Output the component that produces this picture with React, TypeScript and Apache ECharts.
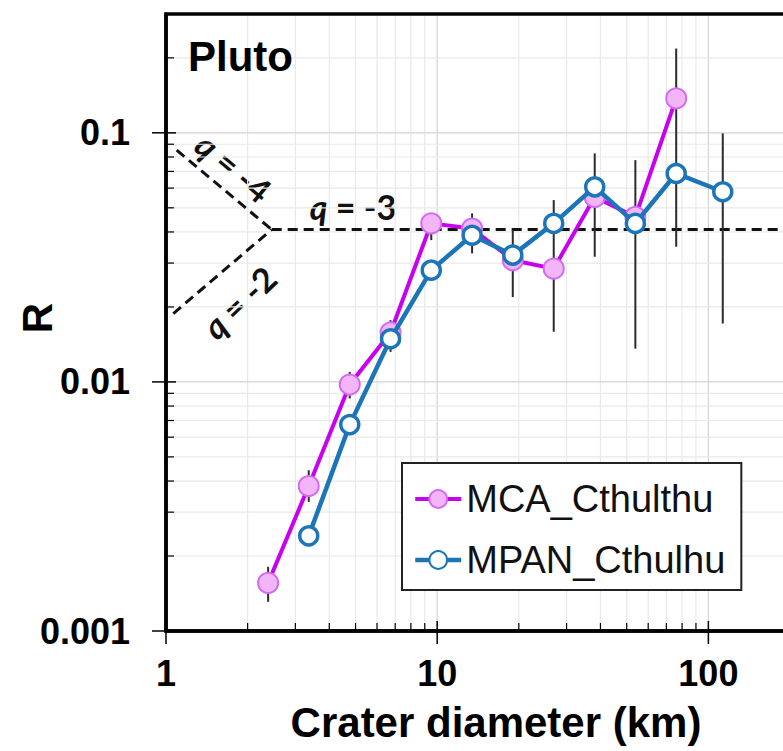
import React, { useEffect, useRef } from 'react';
import * as echarts from 'echarts';

// ---- data ----
const diameters = [2.38, 3.36, 4.76, 6.73, 9.51, 13.45, 19.0, 26.9, 38.1, 53.8, 76.1, 113];
const mcaValues = [0.00156, 0.00382, 0.00976, 0.0158, 0.0433, 0.0413, 0.0308, 0.0285, 0.0553, 0.046, 0.1375, null];
const mpanValues = [null, 0.00241, 0.00674, 0.0149, 0.0281, 0.0388, 0.0323, 0.0433, 0.0607, 0.0433, 0.0687, 0.058];
const errLow = [0.00131, 0.0033, 0.00858, 0.0132, 0.0371, 0.0328, 0.0219, 0.0159, 0.0318, 0.0136, 0.0349, 0.01716];
const errHigh = [0.00181, 0.00442, 0.01097, 0.0177, 0.0476, 0.0475, 0.0407, 0.0537, 0.0827, 0.0777, 0.218, 0.0995];

// reference slope lines (q = -4, -2, -3)
const q4Line = [[1.095, 0.0852], [2.453, 0.0409]];
const q2Line = [[1.064, 0.01882], [2.453, 0.0409]];
const q3Line = [[2.453, 0.0409], [200, 0.0409]];

const xTickLabels = ['1', '10', '100'];
const yTickLabels = ['0.001', '0.01', '0.1'];
const xMajor = [1, 10, 100];
const yMajor = [0.001, 0.01, 0.1];
const xMinor = [2, 3, 4, 5, 6, 7, 8, 9, 20, 30, 40, 50, 60, 70, 80, 90];
const yMinor = [0.002, 0.003, 0.004, 0.005, 0.006, 0.007, 0.008, 0.009, 0.02, 0.03, 0.04, 0.05, 0.06, 0.07, 0.08, 0.09, 0.2];

const X_MIN = 1;
const X_MAX = 200;
const Y_MIN = 0.001;
const Y_MAX = 0.3;

const FONT = '"Liberation Sans", Arial, sans-serif';
const QFONT = 'Lato, "Open Sans", sans-serif';

export default function App() {
  const ref = useRef<HTMLDivElement>(null);

  useEffect(() => {
    const chart = echarts.init(ref.current as HTMLDivElement, null, { renderer: 'svg' });

    const pairs = (vals: (number | null)[]) =>
      diameters.map((d, i) => (vals[i] == null ? null : [d, vals[i]])).filter(Boolean) as number[][];

    const isPow = (v: number) => Math.abs(Math.log10(v) - Math.round(Math.log10(v))) < 1e-6;

    const qText = (text: string, x: number, y: number, rotation: number) => ({
      type: 'text',
      x,
      y,
      rotation,
      silent: true,
      style: {
        text,
        rich: { i: { fontStyle: 'italic', fontSize: 34, fontWeight: 'bold', fontFamily: QFONT, fill: '#111' } },
        fontSize: 34,
        fontWeight: 'bold',
        fontFamily: QFONT,
        fill: '#111',
        align: 'center',
        verticalAlign: 'middle',
        textAlign: 'center',
        textVerticalAlign: 'middle',
      },
    });

    const option: any = {
      animation: false,
      textStyle: { fontFamily: FONT },
      grid: {
        left: 166,
        top: 14,
        right: -7,
        bottom: 120,
        containLabel: false,
        outerBoundsMode: 'none',
        show: true,
        borderColor: '#000',
        borderWidth: 3.5,
        backgroundColor: 'transparent',
      },
      xAxis: {
        type: 'log',
        logBase: 10,
        min: X_MIN,
        max: X_MAX,
        axisLine: { show: true, lineStyle: { color: '#000', width: 3.5 } },
        axisTick: { show: false },
        splitLine: { show: false },
        minorTick: { show: false },
        minorSplitLine: { show: false },
        axisLabel: {
          margin: 24,
          fontSize: 36,
          fontWeight: 'bold',
          color: '#000',
          fontFamily: FONT,
          formatter: (v: number) => {
            if (!isPow(v)) return '';
            const e = Math.round(Math.log10(v));
            return xTickLabels[e] ?? '';
          },
        },
      },
      yAxis: {
        type: 'log',
        logBase: 10,
        min: Y_MIN,
        max: Y_MAX,
        axisLine: { show: true, lineStyle: { color: '#000', width: 3.5 } },
        axisTick: { show: false },
        splitLine: { show: false },
        minorTick: { show: false },
        minorSplitLine: { show: false },
        axisLabel: {
          margin: 36,
          fontSize: 36,
          fontWeight: 'bold',
          color: '#000',
          fontFamily: FONT,
          formatter: (v: number) => {
            if (!isPow(v)) return '';
            const e = Math.round(Math.log10(v));
            return yTickLabels[e + 3] ?? '';
          },
        },
      },
      legend: {
        data: ['MCA_Cthulthu', 'MPAN_Cthulhu'],
        orient: 'vertical',
        left: 402,
        top: 463,
        backgroundColor: '#fff',
        borderColor: '#222',
        borderWidth: 2,
        borderRadius: 0,
        padding: [17, 16, 11, 11],
        itemGap: 23,
        itemWidth: 46,
        itemHeight: 22,
        lineStyle: { width: 'inherit' },
        textStyle: { fontSize: 38, color: '#111', fontFamily: FONT },
        z: 10,
      },
      graphic: [
        {
          type: 'text',
          x: 188,
          y: 56,
          silent: true,
          z: 20,
          style: {
            text: 'Pluto',
            fontSize: 42,
            fontWeight: 'bold',
            fontFamily: FONT,
            fill: '#000',
            align: 'left',
            verticalAlign: 'middle',
            textAlign: 'left',
            textVerticalAlign: 'middle',
          },
        },
        {
          type: 'text',
          x: 37,
          y: 318,
          rotation: Math.PI / 2,
          silent: true,
          style: {
            text: 'R',
            fontSize: 42,
            fontWeight: 'bold',
            fontFamily: FONT,
            fill: '#000',
            align: 'center',
            verticalAlign: 'middle',
            textAlign: 'center',
            textVerticalAlign: 'middle',
          },
        },
        {
          type: 'text',
          x: 496,
          y: 722,
          silent: true,
          style: {
            text: 'Crater diameter (km)',
            fontSize: 42,
            fontWeight: 'bold',
            fontFamily: FONT,
            fill: '#000',
            align: 'center',
            verticalAlign: 'middle',
            textAlign: 'center',
            textVerticalAlign: 'middle',
          },
        },
        qText('{i|q} = -3', 353, 206, 0),
        qText('{i|q} = -4', 234, 167, -0.7),
        qText('{i|q} = -2', 239, 302, 0.76),
      ],
      series: [
        // vertical grid lines
        {
          type: 'custom',
          name: 'xgrid',
          silent: true,
          z: 1,
          data: [...xMajor.slice(1), ...xMinor].map((v) => [v, Y_MIN]),
          renderItem: (_p: any, api: any) => {
            const v = api.value(0);
            const a = api.coord([v, Y_MIN]);
            const b = api.coord([v, Y_MAX]);
            const major = xMajor.indexOf(v) >= 0;
            return {
              type: 'line',
              shape: { x1: a[0], y1: a[1] - 2, x2: b[0], y2: b[1] + 2 },
              style: { stroke: major ? '#d4d4d4' : '#e9e9e9', lineWidth: 1.2 },
            };
          },
        },
        // horizontal grid lines
        {
          type: 'custom',
          name: 'ygrid',
          silent: true,
          z: 1,
          data: [...yMajor.slice(1), ...yMinor].map((v) => [X_MIN, v]),
          renderItem: (_p: any, api: any) => {
            const v = api.value(1);
            const a = api.coord([X_MIN, v]);
            const b = api.coord([X_MAX, v]);
            const major = yMajor.indexOf(v) >= 0;
            return {
              type: 'line',
              shape: { x1: a[0] + 2, y1: a[1], x2: b[0], y2: b[1] },
              style: { stroke: major ? '#d4d4d4' : '#e9e9e9', lineWidth: 1.2 },
            };
          },
        },
        // x ticks
        {
          type: 'custom',
          name: 'xticks',
          silent: true,
          z: 6,
          data: [...xMajor, ...xMinor].map((v) => [v, Y_MIN]),
          renderItem: (_p: any, api: any) => {
            const v = api.value(0);
            const a = api.coord([v, Y_MIN]);
            const major = xMajor.indexOf(v) >= 0;
            return {
              type: 'line',
              shape: major
                ? { x1: a[0], y1: a[1] + 13, x2: a[0], y2: a[1] - 10 }
                : { x1: a[0], y1: a[1], x2: a[0], y2: a[1] - 8 },
              style: { stroke: '#000', lineWidth: major ? 1.5 : 1.2 },
            };
          },
        },
        // y ticks
        {
          type: 'custom',
          name: 'yticks',
          silent: true,
          z: 6,
          data: [...yMajor, ...yMinor].map((v) => [X_MIN, v]),
          renderItem: (_p: any, api: any) => {
            const v = api.value(1);
            const a = api.coord([X_MIN, v]);
            const major = yMajor.indexOf(v) >= 0;
            return {
              type: 'line',
              shape: major
                ? { x1: a[0] - 14, y1: a[1], x2: a[0] + 10, y2: a[1] }
                : { x1: a[0], y1: a[1], x2: a[0] + 8, y2: a[1] },
              style: { stroke: '#000', lineWidth: major ? 1.5 : 1.2 },
            };
          },
        },
        // reference slope lines
        ...[q4Line, q2Line, q3Line].map((d, i) => ({
          type: 'line',
          name: 'q' + i,
          silent: true,
          z: 2,
          symbol: 'none',
          data: d,
          lineStyle: { color: '#111', width: 3, type: [10, 6] },
        })),
        // error bars
        {
          type: 'custom',
          name: 'errors',
          silent: true,
          z: 3,
          encode: { x: 0, y: [1, 2] },
          data: diameters.map((d, i) => [d, errLow[i], errHigh[i]]),
          renderItem: (_p: any, api: any) => {
            const x = api.value(0);
            const a = api.coord([x, api.value(1)]);
            const b = api.coord([x, api.value(2)]);
            return {
              type: 'line',
              shape: { x1: a[0], y1: a[1], x2: b[0], y2: b[1] },
              style: { stroke: '#2b2b2b', lineWidth: 2 },
            };
          },
        },
        {
          type: 'line',
          name: 'MCA_Cthulthu',
          z: 4,
          data: pairs(mcaValues),
          symbol: 'circle',
          symbolSize: 20,
          lineStyle: { color: '#c800f0', width: 4 },
          itemStyle: { color: '#f2b6f8', borderColor: '#d36cf0', borderWidth: 2 },
        },
        {
          type: 'line',
          name: 'MPAN_Cthulhu',
          z: 5,
          data: pairs(mpanValues),
          symbol: 'circle',
          symbolSize: 18,
          lineStyle: { color: '#1c75b8', width: 4.5 },
          itemStyle: { color: '#ffffff', borderColor: '#1c75b8', borderWidth: 3.5 },
        },
      ],
    };

    chart.setOption(option);
    return () => chart.dispose();
  }, []);

  return (
    <div
      ref={ref}
      style={{ position: 'absolute', left: 0, top: 0, width: 783, height: 751, background: '#fff' }}
    />
  );
}
